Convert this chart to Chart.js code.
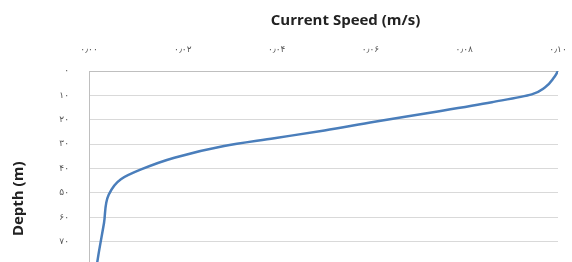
<!DOCTYPE html>
<html>
<head>
<meta charset="utf-8">
<script src="https://cdn.jsdelivr.net/npm/chart.js@4.4.0/dist/chart.umd.min.js"></script>
<style>
  html, body { margin: 0; padding: 0; background: #fff; overflow: hidden; }
  #wrap { width: 572px; height: 340px; }
</style>
</head>
<body>
<div id="wrap"><canvas id="myChart"></canvas></div>
<script>
// current speed (m/s) against depth (m)
const depths = [0, 2.8, 6.8, 9.6, 12.8, 16.8, 20.8, 24.4, 27.6, 30.8, 35.6, 40.4, 44.4, 50.8, 62.4, 75.6, 100];
const speeds = [0.1, 0.0991, 0.0972, 0.0944, 0.0859, 0.0737, 0.0609, 0.0502, 0.0395, 0.0288, 0.0182, 0.0111, 0.0068, 0.0042, 0.0032, 0.002, 0.0001];

const xTickLabels = ["۰٫۰۰", "۰٫۰۲", "۰٫۰۴", "۰٫۰۶", "۰٫۰۸", "۰٫۱۰"];
const yTickLabels = ["۰", "۱۰", "۲۰", "۳۰", "۴۰", "۵۰", "۶۰", "۷۰", "۸۰", "۹۰", "۱۰۰"];

const xTitle = "Current Speed (m/s)";
const yTitle = "Depth (m)";

const points = depths.map((d, i) => ({ x: speeds[i], y: d }));

// axis titles sit a little off-centre in the original, so draw them here
const axisTitles = {
  id: "axisTitles",
  afterDraw(chart) {
    const { ctx, chartArea } = chart;
    ctx.save();
    ctx.fillStyle = "#222";
    ctx.font = "bold 15px 'Open Sans'";
    ctx.textAlign = "center";
    ctx.textBaseline = "middle";
    ctx.fillText(xTitle, (chartArea.left + chartArea.right) / 2 + 22, 21);
    ctx.translate(19, (chartArea.top + chartArea.bottom) / 2 + 6);
    ctx.rotate(-Math.PI / 2);
    ctx.fillText(yTitle, 0, 0);
    ctx.restore();
  },
};

const ctx = document.getElementById("myChart").getContext("2d");

const config = {
  type: "scatter",
  data: {
    datasets: [
      {
        label: "Current Speed",
        data: points,
        showLine: true,
        borderColor: "#4a7ebb",
        borderWidth: 2.5,
        pointRadius: 0,
        cubicInterpolationMode: "monotone",
      },
    ],
  },
  options: {
    indexAxis: "y",
    responsive: true,
    maintainAspectRatio: false,
    animation: false,
    layout: { padding: { top: 0, right: 14, bottom: 19, left: 0 } },
    plugins: {
      legend: { display: false },
      tooltip: { enabled: false },
    },
    scales: {
      x: {
        type: "linear",
        position: "top",
        min: 0,
        max: 0.1,
        afterBuildTicks: (scale) => {
          scale.ticks = xTickLabels.map((t, i) => ({ value: i * 0.02 }));
        },
        ticks: {
          callback: (v, i) => xTickLabels[i],
          color: "#555",
          font: { family: "DejaVu Sans", size: 9 },
          padding: 16,
          maxRotation: 0,
        },
        grid: { display: false, drawTicks: false },
        border: { display: true, color: "#bfbfbf", width: 1 },
        afterFit: (scale) => {
          scale.height = 71;
          scale.paddingLeft = 0;
          scale.paddingRight = 0;
        },
      },
      y: {
        type: "linear",
        position: "left",
        reverse: true,
        min: 0,
        max: 100,
        afterBuildTicks: (scale) => {
          scale.ticks = yTickLabels.map((t, i) => ({ value: i * 10 }));
        },
        ticks: {
          callback: (v, i) => yTickLabels[i],
          color: "#555",
          font: { family: "DejaVu Sans", size: 9 },
          padding: 20,
        },
        grid: { color: "#d9d9d9", drawTicks: false },
        border: { display: true, color: "#bfbfbf", width: 1 },
        afterFit: (scale) => { scale.width = 89; },
      },
    },
  },
  plugins: [axisTitles],
};

const myChart = new Chart(ctx, config);
</script>
</body>
</html>
